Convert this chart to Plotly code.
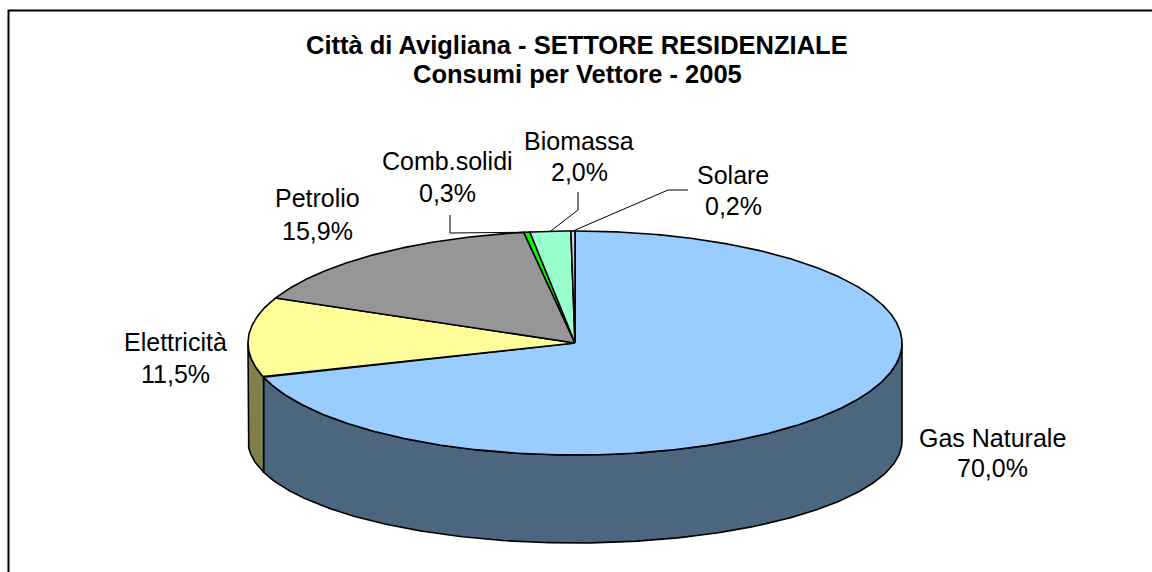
import numpy as np
import plotly.graph_objects as go

# ---------------- data ----------------
categories = ["Gas Naturale", "Elettricità", "Petrolio", "Comb.solidi", "Biomassa", "Solare"]
values = [70.0, 11.5, 15.9, 0.3, 2.0, 0.2]
title_lines = ["Città di Avigliana - SETTORE RESIDENZIALE", "Consumi per Vettore - 2005"]

# ---------------- style / layout ----------------
W, H = 1152, 572
top_colors = ["#99CCFF", "#FFFF99", "#969696", "#00FF00", "#99FFCC", "#CCCCFF"]
FONT = "Liberation Sans, Arial, sans-serif"
LABEL_SIZE = 25
TITLE_SIZE = 25.5

# 3D-pie projection (pixel space)
CX, CY, RX, RY = 575, 343, 327, 112      # top face ellipse
CY2, RY2 = 441, 102                       # bottom face ellipse

# label positions: centre x, cap-centre y of the two lines
label_pos = {
    "Gas Naturale": (992, 438, 468),
    "Elettricità": (175, 342, 374),
    "Petrolio": (317, 198, 231),
    "Comb.solidi": (447, 161, 193),
    "Biomassa": (579, 141, 172),
    "Solare": (733, 175, 206),
}
# leader line bend points (label side) for small slices
leader_pts = {
    "Comb.solidi": [(450, 215), (450, 233)],
    "Biomassa": [(578, 192), (578, 210)],
    "Solare": [(688, 190), (668, 190)],
}


def darker(hexcol, f=0.5):
    hexcol = hexcol.lstrip("#")
    r, g, b = (int(hexcol[i:i + 2], 16) for i in (0, 2, 4))
    return "#%02X%02X%02X" % (int(r * f), int(g * f), int(b * f))


def top_pt(theta_deg):
    t = np.radians(theta_deg)
    return CX + RX * np.sin(t), CY - RY * np.cos(t)


def bot_pt(theta_deg):
    t = np.radians(theta_deg)
    return CX + RX * np.sin(t), CY2 - RY2 * np.cos(t)


total = sum(values)
cum = np.concatenate([[0], np.cumsum(values)]) / total * 360.0

fig = go.Figure()

# sides (front half only: 90..270 deg clockwise from top)
for i, cat in enumerate(categories):
    a0, a1 = cum[i], cum[i + 1]
    s0, s1 = max(a0, 90.0), min(a1, 270.0)
    if s1 <= s0:
        continue
    th = np.linspace(s0, s1, 200)
    xt, yt = top_pt(th)
    xb, yb = bot_pt(th[::-1])
    xs = np.concatenate([xt, xb, [xt[0]]])
    ys = np.concatenate([yt, yb, [yt[0]]])
    fig.add_trace(go.Scatter(
        x=xs, y=ys, mode="lines", fill="toself",
        fillcolor=darker(top_colors[i]),
        line=dict(color="black", width=1.6),
        hoverinfo="skip", showlegend=False))

# top faces
for i, cat in enumerate(categories):
    a0, a1 = cum[i], cum[i + 1]
    n = max(int((a1 - a0) * 3), 4)
    th = np.linspace(a0, a1, n)
    xt, yt = top_pt(th)
    xs = np.concatenate([[CX], xt, [CX]])
    ys = np.concatenate([[CY], yt, [CY]])
    fig.add_trace(go.Scatter(
        x=xs, y=ys, mode="lines", fill="toself",
        fillcolor=top_colors[i],
        line=dict(color="black", width=1.6),
        hoverinfo="skip", showlegend=False))

# leader lines
for i, cat in enumerate(categories):
    if cat not in leader_pts:
        continue
    mid = (cum[i] + cum[i + 1]) / 2
    mx, my = top_pt(mid)
    pts = leader_pts[cat] + [(mx, my)]
    fig.add_trace(go.Scatter(
        x=[p[0] for p in pts], y=[p[1] for p in pts], mode="lines",
        line=dict(color="black", width=1),
        hoverinfo="skip", showlegend=False))

annotations = []
for i, cat in enumerate(categories):
    x, y1, y2 = label_pos[cat]
    pct = f"{values[i]:.1f}".replace(".", ",") + "%"
    for txt, yy in ((cat, y1), (pct, y2)):
        annotations.append(dict(
            x=x, y=yy, xref="x", yref="y", text=txt, showarrow=False,
            xanchor="center", yanchor="middle",
            font=dict(family=FONT, size=LABEL_SIZE, color="black")))

for txt, yy in zip(title_lines, (45, 74)):
    annotations.append(dict(
        x=577, y=yy, xref="x", yref="y", text=f"<b>{txt}</b>", showarrow=False,
        xanchor="center", yanchor="middle",
        font=dict(family=FONT, size=TITLE_SIZE, color="black")))

fig.update_layout(
    width=W, height=H, autosize=False,
    margin=dict(l=0, r=0, t=0, b=0),
    paper_bgcolor="white", plot_bgcolor="white",
    xaxis=dict(range=[0, W], visible=False, fixedrange=True),
    yaxis=dict(range=[H, 0], visible=False, fixedrange=True),
    annotations=annotations,
    shapes=[dict(type="rect", xref="x", yref="y", x0=8.5, y0=10.5, x1=W + 20, y1=H + 20,
                 line=dict(color="black", width=2), layer="below")],
)

fig.write_html(
    "out.html",
    config={"displayModeBar": False, "staticPlot": True},
    post_script="document.body.style.margin='0px';document.body.style.overflow='hidden';",
)
